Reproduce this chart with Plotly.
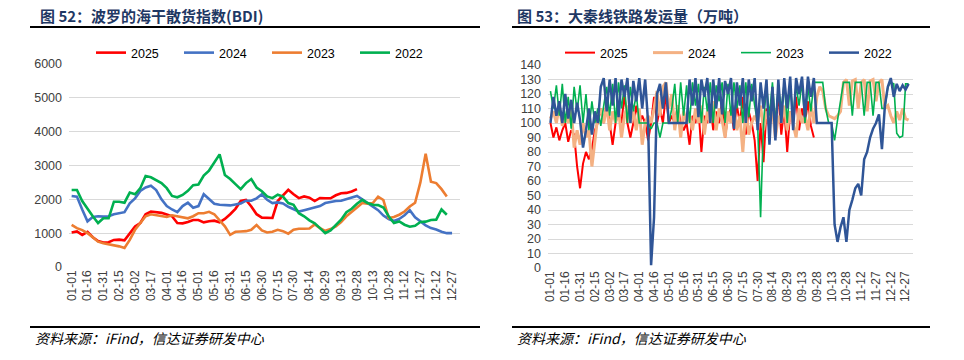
import pandas as pd
import plotly.graph_objects as go

# ---------------- Left panel: BDI (sampled every 5 days from 01-01) ----------------
bdi_dates = pd.date_range("2023-01-01", periods=73, freq="5D")
bdi_2025 = [1020,1050,950,1040,880,770,725,730,800,810,
            790,980,1195,1300,1560,1640,1620,1600,1550,1500,
            1300,1290,1330,1390,1390,1320,1350,1370,1320,1420,
            1560,1720,1950,1985,1790,1560,1460,1445,1450,1950,
            2100,2280,2150,2035,2085,2050,1950,2040,2030,2030,
            2120,2180,2190,2230,2300] + [None] * 18
bdi_2024 = [2100,2080,1700,1350,1480,1500,1490,1500,1560,1600,
            1620,1880,2030,2250,2350,2400,2275,2000,1800,1700,
            1620,1800,1900,1750,1800,2150,2000,1870,1840,1830,
            1820,1850,1880,1960,1960,2030,2150,1985,1890,1910,
            1880,1780,1700,1640,1680,1720,1760,1800,1890,1930,
            1950,1960,2000,2055,2100,2000,1900,1800,1680,1520,
            1420,1360,1420,1530,1680,1470,1350,1230,1150,1110,
            1040,1000,1000]
bdi_2023 = [1245,1150,1090,1000,880,750,705,680,650,610,
            560,800,1100,1290,1500,1560,1540,1510,1480,1530,
            1500,1480,1440,1500,1590,1590,1630,1560,1380,1200,
            950,1040,1050,1060,1100,1240,1080,1020,1040,1100,
            1060,985,1100,1130,1130,1140,1260,1150,1070,1120,
            1200,1330,1500,1620,1760,1890,1870,1890,2080,1980,
            1450,1480,1545,1640,1790,1900,2500,3345,2520,2480,
            2300,2085,None]
bdi_2022 = [2275,2275,1950,1720,1500,1300,1440,1440,1930,1930,
            1900,2200,2150,2330,2690,2650,2570,2480,2330,2100,
            2060,2130,2250,2420,2440,2700,2850,3100,3330,2720,
            2600,2450,2300,2480,2600,2350,2240,2085,2035,2135,
            2080,1890,1840,1590,1500,1380,1290,1150,1000,1080,
            1230,1400,1620,1720,1870,1985,1890,1840,1830,1760,
            1500,1300,1345,1250,1190,1220,1330,1340,1390,1400,
            1700,1545,None]

# ---------------- Right panel: Daqin line shipments (sampled every 3 days) ----------------
dq_dates = pd.date_range("2023-01-01", periods=122, freq="3D")
dq_2025 = ([100,90,97,88,95,100,87,95]
           + [92,70,55,72,80,75,82,95]
           + [100,110,100,115,100,85,100,108,100,120,100,90,100,112,100,105,100,88,100,118,
              100,110,100,120,100,105,100,112,100,95,100]
           + [85,105,100,110,80,105,100,112,95,108,100,115,90,105,110,95,112,100,118,92,
              108,100,88,60,100,73,110,95,115,100,120,92,110,80,108,100,118,95,110,100,
              115,98,90]
           + [None] * 32)
dq_2024 = ([103,108,100,112,98,105,100,110]
           + [83,95,85,100,90,95,70,88]
           + [105,110,100,112,95,108,100,110,90,105,112,100,108,95,110,85,100,105]
           + [100,110,122,105,125,128,110,120,95,112,90,108,100]
           + [105,95,110,100,112,92,108,100,115,95,110,102,90,108,100,112,95,105,80,110,
              92,100,105,100,112,95,108,100,110,90,105,100,112,95,108,100,90,110,100,105,
              95,112,100]
           + [118,125,122,110,105,104]
           + [103,105,108]
           + [128,130,112,129,130,110,128,130,108,129,130,115,128,130,110]
           + [112,105,100,108,102,110,103,102])
dq_2023 = ([122,110,126,105,127,100,118,96,125,108,126,100,120,95,115,100,110,98,112]
           + [125,105,127,100,128,110,126,100,125,108,120]
           + [100,100,100,100,96,100,100,90,100,100,100]
           + [110,127,100,128,105,126,100,128,112,127,100,125,108,128,100,126,115,128,100,127,
              105,128,110,126,100,128,104,127,112]
           + [100,35,100]
           + [126,105,128,100,125,110,128,100,127,104,126,112,128,100,125,108,128]
           + [128,128,128,110]
           + [100,100,88,102,115]
           + [128,128,128,105,128,128,128,105,128,128,105,128,128,110]
           + [110,125,128,127,93,90,91,127,127])
dq_2022 = ([100,118,105,115,100,120,103,116,100,114,102]
           + [83]
           + [95,110,92,108,100]
           + [125,131,108,130,112,131,104,130,118,131,100,129,115,131,110,130,100]
           + [2, 35]
           + [120,127,110,128]
           + [100,100,100,100,100,100,100]
           + [130,112,131,104,130,118,131,100,130,110,131,106,129,120,131,96,128,112,131,100,
              130,115,131,95,128,110,130,85,125,88,130,100,131,110,132,95,131,120,132,104,
              132,118,131]
           + [100,100,100,100,100,100]
           + [30,18,28,35,18,40,47,55,58,50,75,80,90,96,100,106,82,112,125,131,118,127,122,
              126,123,127])

years = ["2025", "2024", "2023", "2022"]
left_colors = ["#FF0000", "#4472C4", "#ED7D31", "#00B050"]
right_colors = ["#FF0000", "#F4B183", "#00B050", "#2F5597"]
right_widths = [2, 3, 1.6, 2.5]

W, H = 964, 360
FONT = "Liberation Sans, Arial, Noto Sans CJK SC, sans-serif"
CJK = "Noto Sans CJK SC, Liberation Sans, sans-serif"

fig = go.Figure()
for name, ys, c in zip(years, [bdi_2025, bdi_2024, bdi_2023, bdi_2022], left_colors):
    fig.add_trace(go.Scatter(x=bdi_dates, y=ys, name=name, mode="lines",
                             line=dict(color=c, width=2.6), xaxis="x", yaxis="y",
                             legend="legend", connectgaps=False))
for name, ys, c, w in zip(years, [dq_2025, dq_2024, dq_2023, dq_2022], right_colors, right_widths):
    fig.add_trace(go.Scatter(x=dq_dates, y=ys, name=name, mode="lines",
                             line=dict(color=c, width=w), xaxis="x2", yaxis="y2",
                             legend="legend2", connectgaps=False))

base = pd.Timestamp("2023-01-01")
xr = [base - pd.Timedelta(hours=60), base + pd.Timedelta(hours=367.5 * 24)]
xcommon = dict(type="date", range=xr, tick0="2023-01-01", dtick=15 * 86400000,
               tickformat="%m-%d", tickangle=-90, showgrid=False, zeroline=False,
               showline=False, ticks="", automargin=False,
               tickfont=dict(family=FONT, size=12, color="#404040"))
ycommon = dict(showgrid=True, gridcolor="#D9D9D9", gridwidth=1, zeroline=False,
               showline=False, ticks="", ticklabelstandoff=6, automargin=False,
               tickfont=dict(family=FONT, size=12.5, color="#404040"))

fig.update_layout(
    width=W, height=H, margin=dict(l=0, r=0, t=0, b=0, autoexpand=False),
    paper_bgcolor="white", plot_bgcolor="white",
    xaxis=dict(domain=[69 / W, 460 / W], anchor="y", **xcommon),
    yaxis=dict(domain=[1 - 267 / H, 1 - 64 / H], anchor="x", range=[0, 6000], dtick=1000, **ycommon),
    xaxis2=dict(domain=[548 / W, 913 / W], anchor="y2", **xcommon),
    yaxis2=dict(domain=[1 - 268 / H, 1 - 65 / H], anchor="x2", range=[0, 140], dtick=10, **ycommon),
    legend=dict(orientation="h", x=91 / W, y=1 - 53 / H, xanchor="left", yanchor="middle",
                entrywidth=43, entrywidthmode="pixels", font=dict(family=FONT, size=12.5, color="#000000"),
                bgcolor="rgba(0,0,0,0)", tracegroupgap=0),
    legend2=dict(orientation="h", x=560 / W, y=1 - 53 / H, xanchor="left", yanchor="middle",
                 entrywidth=43, entrywidthmode="pixels", font=dict(family=FONT, size=12.5, color="#000000"),
                 bgcolor="rgba(0,0,0,0)", tracegroupgap=0),
    showlegend=True,
)

title_color = "#1F3864"
fig.add_annotation(text="<b>图 52：波罗的海干散货指数(BDI)</b>", x=38 / W, y=1 - 16 / H,
                   xref="paper", yref="paper", xanchor="left", yanchor="middle", showarrow=False,
                   font=dict(family=CJK, size=15, color=title_color))
fig.add_annotation(text="<b>图 53：大秦线铁路发运量（万吨）</b>", x=515 / W, y=1 - 16 / H,
                   xref="paper", yref="paper", xanchor="left", yanchor="middle", showarrow=False,
                   font=dict(family=CJK, size=15, color=title_color))
for x0 in (33, 515):
    fig.add_annotation(text="<i>资料来源：iFind，信达证券研发中心</i>", x=x0 / W, y=1 - 338 / H,
                       xref="paper", yref="paper", xanchor="left", yanchor="middle", showarrow=False,
                       font=dict(family=CJK, size=14, color="#000000"))

for (x0, x1) in ((30, 480), (512, 930)):
    for yy in (27, 327):
        fig.add_shape(type="line", xref="paper", yref="paper", x0=x0 / W, x1=x1 / W,
                      y0=1 - yy / H, y1=1 - yy / H, line=dict(color="#000000", width=2))

fig.write_html("out.html", config={"displayModeBar": False},
               post_script="document.body.style.margin='0';")
